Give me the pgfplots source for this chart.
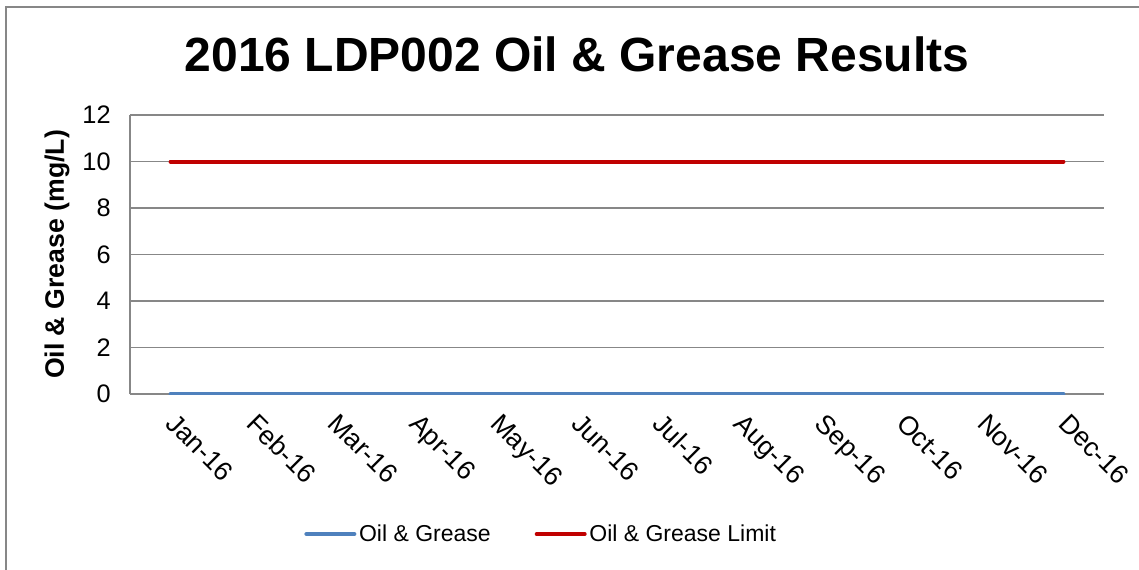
\documentclass[border=0pt]{standalone}
\usepackage{fontspec}
\setmainfont{Liberation Sans}
\usepackage{pgfplots}
\pgfplotsset{compat=1.18}
\definecolor{OGBlue}{HTML}{4F81BD}
\definecolor{OGRed}{HTML}{C00000}
\definecolor{GridGray}{HTML}{878787}

\begin{document}
\begin{tikzpicture}
\useasboundingbox (0,0) rectangle (854.25pt,426.75pt);
% chart frame (only top and left edges fall inside the picture)
\draw[GridGray, line width=0.8pt] (4.5pt,-20pt) -- (4.5pt,421.5pt) -- (880pt,421.5pt);
\node[anchor=base, font=\bfseries\fontsize{36}{40}\selectfont] at (432.75pt,372.75pt) {2016 LDP002 Oil \& Grease Results};

\begin{axis}[
    at={(97.5pt,131.25pt)}, anchor=south west,
    scale only axis, width=730.5pt, height=209.25pt,
    xmin=-0.5, xmax=11.5, ymin=0, ymax=12,
    xtick={0,...,11},
    xticklabels={Jan-16,Feb-16,Mar-16,Apr-16,May-16,Jun-16,Jul-16,Aug-16,Sep-16,Oct-16,Nov-16,Dec-16},
    ytick={0,2,...,12},
    major tick length=0pt,
    axis x line*=bottom, axis y line*=left,
    axis line style={draw=GridGray, line width=0.8pt, -},
    ymajorgrids, grid style={draw=GridGray, line width=0.8pt},
    /pgf/number format/assume math mode=true,
    tick label style={font=\fontsize{19}{22}\selectfont},
    yticklabel style={xshift=-11pt},
    xticklabel style={font=\fontsize{20}{24}\selectfont, xshift=5.4pt, yshift=-8.4pt, rotate=-45, anchor=north west},
    ylabel={Oil \& Grease (mg/L)},
    ylabel style={font=\bfseries\fontsize{20}{24}\selectfont, at={(axis description cs:-0.075,0.5)}, anchor=center, rotate=0},
    legend style={at={(axis description cs:0.4225,-0.502)}, anchor=center, draw=none, fill=none,
        legend columns=2, font=\fontsize{17.25}{20}\selectfont, inner sep=0pt,
        /tikz/every even column/.append style={column sep=31pt}},
    legend cell align=left,
    legend image code/.code={\draw[#1, line cap=round] (0pt,0pt) -- (36pt,0pt);},
]
\addplot[OGBlue, line width=3pt, line cap=round] coordinates {
(0,0) (1,0) (2,0) (3,0) (4,0) (5,0) (6,0) (7,0) (8,0) (9,0) (10,0) (11,0)};
\addlegendentry{Oil \& Grease}
\addplot[OGRed, line width=3pt, line cap=round] coordinates {
(0,10) (1,10) (2,10) (3,10) (4,10) (5,10) (6,10) (7,10) (8,10) (9,10) (10,10) (11,10)};
\addlegendentry{Oil \& Grease Limit}
\end{axis}
\end{tikzpicture}
\end{document}
